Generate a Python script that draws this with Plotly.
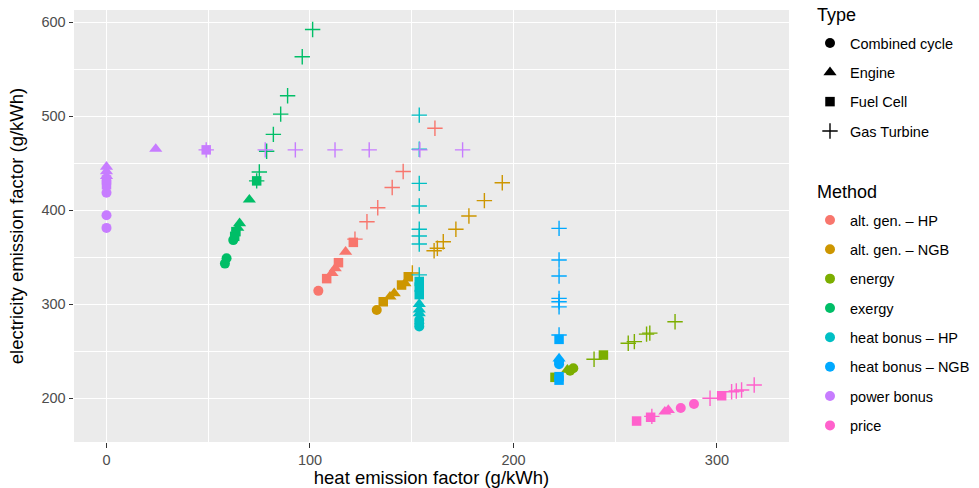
import plotly.graph_objects as go

# ---------------- data ----------------
methods = ["alt. gen. \u2013 HP", "alt. gen. \u2013 NGB", "energy", "exergy",
           "heat bonus \u2013 HP", "heat bonus \u2013 NGB", "power bonus", "price"]
method_colors = ["#F8766D", "#CD9600", "#7CAE00", "#00BE67",
                 "#00BFC4", "#00A9FF", "#C77CFF", "#FF61CC"]
types = ["Combined cycle", "Engine", "Fuel Cell", "Gas Turbine"]
type_symbols = ["circle", "triangle-up", "square", "cross-thin"]

# heat / electricity emission factors (g/kWh), per method and plant type
alt_hp = {
    "Combined cycle": ([104.1], [314]),
    "Engine": ([110.8, 112.4, 117.5], [333, 338, 355.5]),
    "Fuel Cell": ([108.2, 114.0, 121.3], [327, 344, 365.6]),
    "Gas Turbine": ([122.1, 128.0, 133.3, 140.4, 145.8, 161.4],
                    [369, 387.5, 402.4, 424, 441, 487]),
}
alt_ngb = {
    "Combined cycle": ([132.8], [293.6]),
    "Engine": ([139.3, 141.4, 146.7], [307.8, 311.4, 322]),
    "Fuel Cell": ([136.0, 145.0, 148.3], [302.4, 320.2, 329]),
    "Gas Turbine": ([150.3, 161.0, 162.6, 165.5, 171.7, 178.1, 185.7, 194.5],
                    [333, 356.7, 359.3, 366.3, 379.5, 393.6, 410, 429]),
}
energy = {
    "Combined cycle": ([227.8, 229.4], [229, 231.6]),
    "Engine": ([226.5], [230]),
    "Fuel Cell": ([220.4, 244.2], [222, 245.7]),
    "Gas Turbine": ([239.6, 256.4, 259.4, 265.4, 267.0, 279.4],
                    [241.2, 258.2, 260, 268, 269, 281.2]),
}
exergy = {
    "Combined cycle": ([58.2, 59.0, 62.3], [343, 348.6, 368]),
    "Engine": ([64.5, 65.4, 70.2], [381, 385.8, 411]),
    "Fuel Cell": ([63.0, 63.6, 73.8], [372, 377, 431]),
    "Gas Turbine": ([73.8, 75.1, 78.7, 82.0, 85.6, 89.0, 96.2, 101.3],
                    [431, 440.5, 462.5, 480.5, 502, 521.6, 563, 592]),
}
hb_hp = {
    "Combined cycle": ([153.7, 153.7, 153.7], [276, 279.5, 283]),
    "Engine": ([153.7, 153.7, 153.7], [290, 294, 300]),
    "Fuel Cell": ([153.7, 153.7, 153.7], [310, 318, 324]),
    "Gas Turbine": ([153.7] * 8,
                    [331, 363.8, 372.3, 379.5, 404.3, 428.4, 464.6, 501]),
}
hb_ngb = {
    "Combined cycle": ([222.4, 222.4], [236, 238.6]),
    "Engine": ([222.4], [242]),
    "Fuel Cell": ([222.4, 222.4, 222.4], [219, 222.7, 262.4]),
    "Gas Turbine": ([222.4] * 7,
                    [267, 297, 302.4, 306, 329.8, 346.8, 380.5]),
}
power_bonus = {
    "Combined cycle": ([0, 0, 0], [381, 394.5, 418.4]),
    "Engine": ([0, 0, 0, 24.2], [436, 441, 446, 465]),
    "Fuel Cell": ([0, 0, 49.0], [427, 432, 464]),
    "Gas Turbine": ([49.0, 78.0, 92.8, 112.3, 129.1, 154.0, 175.0],
                    [464, 464, 464, 464, 464, 464, 464]),
}
price = {
    "Combined cycle": ([282.2, 288.7], [189.4, 193.6]),
    "Engine": ([274.4, 276.1], [185.4, 187.2]),
    "Fuel Cell": ([260.5, 267.4, 302.3], [175.5, 179.5, 202.4]),
    "Gas Turbine": ([268.0, 296.6, 307.2, 309.5, 312.1, 318.3],
                    [180.5, 199.7, 206.7, 207.5, 208.5, 213.8]),
}
method_data = [alt_hp, alt_ngb, energy, exergy, hb_hp, hb_ngb, power_bonus, price]

x_ticks = [0, 100, 200, 300]
y_ticks = [200, 300, 400, 500, 600]

# ---------------- figure ----------------
sizes = {"circle": 10, "triangle-up": 11.5, "square": 9.5, "cross-thin": 11}
FONT = "Liberation Sans, Arial, sans-serif"

fig = go.Figure()
for m, col, data in zip(methods, method_colors, method_data):
    for t, sym in zip(types, type_symbols):
        xs, ys = data[t]
        lw = 1.4 if sym == "cross-thin" else 0
        fig.add_trace(go.Scatter(
            x=xs, y=ys, mode="markers", showlegend=False,
            hovertext=[f"{m} / {t}"] * len(xs),
            marker=dict(symbol=sym, size=sizes[sym], color=col,
                        line=dict(color=col, width=lw)),
        ))

# legend: Type
for i, (t, sym) in enumerate(zip(types, type_symbols)):
    lw = 1.4 if sym == "cross-thin" else 0
    fig.add_trace(go.Scatter(
        x=[None], y=[None], mode="markers", name=t, legend="legend",
        legendgroup=f"type{i}",
        marker=dict(symbol=sym, size=sizes[sym], color="black",
                    line=dict(color="black", width=lw)),
    ))
# legend: Method
for i, (m, col) in enumerate(zip(methods, method_colors)):
    fig.add_trace(go.Scatter(
        x=[None], y=[None], mode="markers", name=m, legend="legend2",
        legendgroup=f"method{i}",
        marker=dict(symbol="circle", size=10, color=col),
    ))

W, H = 979, 488
axis_common = dict(
    showgrid=True, gridcolor="white", gridwidth=1.1, zeroline=False,
    ticks="outside", ticklen=4.5, tickwidth=1.1, tickcolor="#333333",
    tickfont=dict(size=14.5, color="#4D4D4D"), showline=False,
    automargin=False,
)
legend_common = dict(
    xref="container", yref="container", x=810 / W, xanchor="left",
    yanchor="top", font=dict(size=14.5), tracegroupgap=7.5,
    traceorder="grouped", bgcolor="rgba(0,0,0,0)", maxheight=460,
)
fig.update_layout(
    width=W, height=H,
    margin=dict(l=74, r=W - 789, t=10, b=H - 442),
    paper_bgcolor="white", plot_bgcolor="#EBEBEB",
    font=dict(family=FONT, color="black"),
    xaxis=dict(range=[-15.97, 335.4], tickvals=x_ticks,
               ticktext=[str(v) for v in x_ticks],
               minor=dict(tickvals=[-50, 50, 150, 250, 350], gridcolor="white",
                          gridwidth=0.5, ticks=""),
               title=dict(text="heat emission factor (g/kWh)",
                          font=dict(size=18.5), standoff=4),
               **axis_common),
    yaxis=dict(range=[153.2, 612.8], tickvals=y_ticks,
               ticktext=[str(v) for v in y_ticks],
               minor=dict(tickvals=[150, 250, 350, 450, 550], gridcolor="white",
                          gridwidth=0.5, ticks=""),
               title=dict(text="electricity emission factor (g/kWh)",
                          font=dict(size=18.5), standoff=12),
               **axis_common),
    legend=dict(y=1 - 27 / H, **legend_common),
    legend2=dict(y=1 - 204 / H, **legend_common),
    annotations=[
        dict(text="Type", xref="paper", yref="paper", showarrow=False,
             x=(815 - 74) / (789 - 74), y=1 + (10 - 15) / (442 - 10),
             xanchor="left", yanchor="middle", font=dict(size=18)),
        dict(text="Method", xref="paper", yref="paper", showarrow=False,
             x=(815 - 74) / (789 - 74), y=1 + (10 - 192) / (442 - 10),
             xanchor="left", yanchor="middle", font=dict(size=18)),
    ],
)

fig.write_html("out.html", config={"displayModeBar": False},
               post_script="document.body.style.margin='0px';")
